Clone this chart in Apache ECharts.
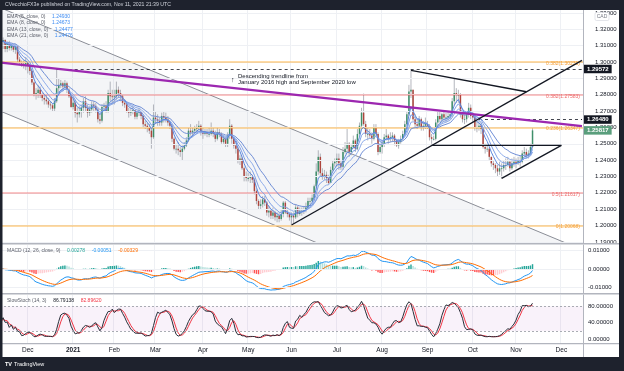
<!DOCTYPE html>
<html><head><meta charset="utf-8">
<script src="https://cdn.jsdelivr.net/npm/echarts@6/dist/echarts.min.js"></script>
<style>html,body{margin:0;padding:0;background:#fff}#c{width:624px;height:371px}</style>
</head><body><div id="c"></div>
<script>
// ---------- daily USD/CAD candles (open = previous close) ----------
const firstOpen = 1.3100;
const c_nov20=[1.3125,1.3135,1.3080,1.3110,1.3085,1.3100,1.3075,1.3095,1.3015,1.2995,1.2990,1.2985,1.2995];
const h_nov20=[1.3170,1.3150,1.3140,1.3125,1.3130,1.3110,1.3110,1.3110,1.3100,1.3030,1.3010,1.3010,1.3030];
const l_nov20=[1.3090,1.3080,1.3060,1.3060,1.3070,1.3070,1.3060,1.3050,1.3000,1.2980,1.2970,1.2960,1.2950];
const c_dec20=[1.2975,1.2945,1.2875,1.2800,1.2810,1.2830,1.2800,1.2780,1.2770,1.2760,1.2740,1.2735,1.2715,1.2760,1.2840,1.2860,1.2870,1.2850,1.2870,1.2830,1.2790,1.2725];
const h_dec20=[1.3000,1.2990,1.2950,1.2880,1.2840,1.2860,1.2850,1.2810,1.2800,1.2800,1.2780,1.2760,1.2745,1.2780,1.2957,1.2900,1.2890,1.2880,1.2890,1.2880,1.2840,1.2800];
const l_dec20=[1.2930,1.2920,1.2860,1.2790,1.2770,1.2780,1.2780,1.2760,1.2740,1.2740,1.2720,1.2710,1.2700,1.2700,1.2750,1.2810,1.2840,1.2820,1.2830,1.2810,1.2780,1.2720];
const c_jan21=[1.2750,1.2690,1.2680,1.2700,1.2720,1.2760,1.2720,1.2690,1.2710,1.2740,1.2730,1.2710,1.2650,1.2640,1.2725,1.2730,1.2700,1.2810,1.2790,1.2785];
const h_jan21=[1.2790,1.2770,1.2720,1.2730,1.2740,1.2780,1.2790,1.2740,1.2730,1.2760,1.2760,1.2750,1.2720,1.2680,1.2740,1.2750,1.2760,1.2830,1.2880,1.2830];
const l_jan21=[1.2710,1.2660,1.2630,1.2660,1.2660,1.2690,1.2700,1.2660,1.2670,1.2690,1.2700,1.2690,1.2630,1.2620,1.2630,1.2700,1.2690,1.2690,1.2760,1.2740];
const c_feb21=[1.2790,1.2830,1.2810,1.2790,1.2750,1.2740,1.2700,1.2690,1.2700,1.2705,1.2665,1.2690,1.2695,1.2670,1.2620,1.2610,1.2600,1.2580,1.2540,1.2660];
const h_feb21=[1.2830,1.2880,1.2850,1.2830,1.2800,1.2770,1.2750,1.2720,1.2720,1.2730,1.2700,1.2700,1.2720,1.2700,1.2680,1.2640,1.2630,1.2620,1.2590,1.2740];
const l_feb21=[1.2740,1.2770,1.2780,1.2760,1.2730,1.2720,1.2690,1.2660,1.2670,1.2680,1.2650,1.2650,1.2670,1.2650,1.2600,1.2590,1.2570,1.2560,1.2470,1.2530];
const c_mar21=[1.2650,1.2640,1.2630,1.2670,1.2660,1.2650,1.2630,1.2610,1.2530,1.2470,1.2470,1.2460,1.2450,1.2470,1.2490,1.2520,1.2580,1.2570,1.2580,1.2590,1.2600,1.2610,1.2570];
const h_mar21=[1.2700,1.2680,1.2660,1.2690,1.2700,1.2690,1.2670,1.2640,1.2620,1.2540,1.2500,1.2510,1.2480,1.2490,1.2510,1.2540,1.2600,1.2620,1.2600,1.2610,1.2620,1.2640,1.2620];
const l_mar21=[1.2620,1.2610,1.2610,1.2610,1.2630,1.2630,1.2610,1.2590,1.2510,1.2460,1.2440,1.2430,1.2420,1.2400,1.2460,1.2480,1.2510,1.2550,1.2540,1.2560,1.2570,1.2580,1.2550];
const c_apr21=[1.2560,1.2570,1.2560,1.2560,1.2580,1.2560,1.2530,1.2570,1.2560,1.2510,1.2530,1.2500,1.2550,1.2610,1.2530,1.2490,1.2470,1.2400,1.2410,1.2350,1.2300,1.2290];
const h_apr21=[1.2600,1.2590,1.2590,1.2600,1.2630,1.2600,1.2580,1.2600,1.2590,1.2570,1.2550,1.2540,1.2570,1.2650,1.2620,1.2540,1.2510,1.2480,1.2430,1.2420,1.2360,1.2330];
const l_apr21=[1.2530,1.2550,1.2540,1.2540,1.2550,1.2540,1.2510,1.2520,1.2540,1.2500,1.2500,1.2480,1.2480,1.2530,1.2500,1.2470,1.2440,1.2380,1.2370,1.2340,1.2270,1.2270];
const c_may21=[1.2290,1.2300,1.2280,1.2210,1.2150,1.2120,1.2130,1.2160,1.2140,1.2080,1.2090,1.2060,1.2080,1.2050,1.2060,1.2040,1.2070,1.2140,1.2080,1.2070,1.2050];
const h_may21=[1.2320,1.2330,1.2310,1.2290,1.2220,1.2160,1.2160,1.2180,1.2180,1.2150,1.2120,1.2100,1.2110,1.2090,1.2080,1.2080,1.2100,1.2150,1.2150,1.2110,1.2080];
const l_may21=[1.2270,1.2260,1.2260,1.2190,1.2130,1.2100,1.2100,1.2110,1.2120,1.2060,1.2050,1.2040,1.2040,1.2030,1.2020,1.2020,1.2030,1.2050,1.2070,1.2050,1.2030];
const c_jun21=[1.2060,1.2050,1.2110,1.2070,1.2090,1.2090,1.2100,1.2110,1.2150,1.2150,1.2170,1.2240,1.2330,1.2420,1.2320,1.2300,1.2310,1.2290,1.2260,1.2340,1.2380,1.2390];
const h_jun21=[1.2080,1.2080,1.2130,1.2120,1.2110,1.2110,1.2120,1.2140,1.2170,1.2170,1.2190,1.2250,1.2380,1.2460,1.2440,1.2350,1.2340,1.2330,1.2310,1.2360,1.2400,1.2410];
const l_jun21=[1.2007,1.2010,1.2040,1.2050,1.2060,1.2060,1.2070,1.2080,1.2100,1.2130,1.2140,1.2150,1.2220,1.2310,1.2300,1.2280,1.2280,1.2260,1.2250,1.2260,1.2330,1.2360];
const c_jul21=[1.2410,1.2380,1.2360,1.2450,1.2470,1.2500,1.2450,1.2480,1.2520,1.2470,1.2560,1.2610,1.2690,1.2620,1.2560,1.2560,1.2550,1.2530,1.2600,1.2560,1.2450,1.2480];
const h_jul21=[1.2440,1.2440,1.2400,1.2480,1.2510,1.2590,1.2510,1.2500,1.2550,1.2530,1.2590,1.2630,1.2720,1.2807,1.2640,1.2600,1.2590,1.2570,1.2620,1.2620,1.2570,1.2500];
const l_jul21=[1.2360,1.2340,1.2340,1.2340,1.2440,1.2450,1.2420,1.2430,1.2470,1.2450,1.2460,1.2550,1.2590,1.2610,1.2540,1.2520,1.2530,1.2500,1.2520,1.2540,1.2430,1.2440];
const c_aug21=[1.2500,1.2540,1.2550,1.2530,1.2540,1.2550,1.2520,1.2490,1.2510,1.2530,1.2560,1.2620,1.2680,1.2820,1.2830,1.2650,1.2620,1.2610,1.2650,1.2600,1.2610,1.2620];
const h_aug21=[1.2520,1.2560,1.2590,1.2560,1.2570,1.2570,1.2560,1.2530,1.2530,1.2550,1.2580,1.2640,1.2700,1.2860,1.2949,1.2830,1.2680,1.2650,1.2670,1.2660,1.2640,1.2660];
const l_aug21=[1.2440,1.2480,1.2520,1.2500,1.2510,1.2510,1.2490,1.2480,1.2470,1.2500,1.2520,1.2550,1.2610,1.2670,1.2780,1.2640,1.2600,1.2590,1.2600,1.2580,1.2580,1.2590];
const c_sep21=[1.2610,1.2540,1.2530,1.2530,1.2630,1.2670,1.2650,1.2680,1.2660,1.2660,1.2670,1.2680,1.2760,1.2810,1.2800,1.2800,1.2680,1.2650,1.2650,1.2680,1.2720,1.2670];
const h_sep21=[1.2640,1.2620,1.2560,1.2550,1.2650,1.2700,1.2700,1.2690,1.2700,1.2690,1.2700,1.2700,1.2780,1.2896,1.2840,1.2830,1.2810,1.2700,1.2680,1.2700,1.2750,1.2740];
const l_sep21=[1.2590,1.2520,1.2500,1.2520,1.2520,1.2610,1.2630,1.2630,1.2640,1.2630,1.2640,1.2650,1.2660,1.2730,1.2750,1.2750,1.2660,1.2630,1.2620,1.2630,1.2660,1.2650];
const c_oct21=[1.2660,1.2600,1.2600,1.2610,1.2590,1.2480,1.2470,1.2470,1.2420,1.2380,1.2370,1.2350,1.2330,1.2350,1.2350,1.2370,1.2370,1.2390,1.2350,1.2380,1.2390];
const h_oct21=[1.2700,1.2670,1.2640,1.2640,1.2630,1.2600,1.2500,1.2500,1.2480,1.2420,1.2400,1.2380,1.2370,1.2390,1.2380,1.2400,1.2410,1.2420,1.2400,1.2410,1.2420];
const l_oct21=[1.2630,1.2580,1.2570,1.2580,1.2560,1.2470,1.2440,1.2450,1.2400,1.2360,1.2340,1.2320,1.2300,1.2310,1.2288,1.2330,1.2340,1.2360,1.2330,1.2340,1.2360];
const c_nov21=[1.2380,1.2400,1.2390,1.2440,1.2450,1.2430,1.2440,1.2480,1.25817];
const h_nov21=[1.2410,1.2420,1.2430,1.2460,1.2480,1.2470,1.2460,1.2500,1.2595];
const l_nov21=[1.2350,1.2370,1.2360,1.2380,1.2420,1.2410,1.2410,1.2430,1.2470];

// ---------- axis / annotation values ----------
const priceTicks=[1.19,1.20,1.21,1.22,1.23,1.24,1.25,1.26,1.27,1.28,1.29,1.30,1.31,1.32,1.33];
const macdTicks=[-0.01,0,0.01];
const stochTicks=[0,40,80];
const monthNames=['Jan','Feb','Mar','Apr','May','Jun','Jul','Aug','Sep','Oct','Nov','Dec'];
const fibOrangeNames=['0.382','0.236','0'];
const fibOrangeValues=[1.30231,1.26347,1.20068];
const fibRedNames=['0.382','0.5'];
const fibRedValues=[1.27583,1.21617];
const channelUpper=[[0,1.3330],[282,1.1852]];
const channelLower=[[0,1.2698],[282,1.1220]];
const trendPurple=[[0,1.29965],[282,1.26073]];
const trendRise=[[141,1.2003],[282,1.3010]];
const trendPennantTop=[[199,1.2949],[255,1.2818]];
const trendFlat=[[209,1.2490],[272,1.2490]];
const trendOctLow=[[243,1.2288],[272,1.2490]];
const levelDec21High=1.29572, levelDec21Start=27;
const levelSepBreak=1.26480, levelSepStart=232;
const emaLegendNames=['EMA (5, close, 0)','EMA (8, close, 0)','EMA (13, close, 0)','EMA (21, close, 0)'];
const emaLegendValues=['1.24930','1.24673','1.24477','1.24476'];
const macdLegendValues=['0.00278','-0.00051','-0.00329'];
const stochLegendValues=['86.79138','82.89620'];

// ---------- build ----------
const closes=[].concat(c_nov20,c_dec20,c_jan21,c_feb21,c_mar21,c_apr21,c_may21,c_jun21,c_jul21,c_aug21,c_sep21,c_oct21,c_nov21);
const highs=[].concat(h_nov20,h_dec20,h_jan21,h_feb21,h_mar21,h_apr21,h_may21,h_jun21,h_jul21,h_aug21,h_sep21,h_oct21,h_nov21);
const lows=[].concat(l_nov20,l_dec20,l_jan21,l_feb21,l_mar21,l_apr21,l_may21,l_jun21,l_jul21,l_aug21,l_sep21,l_oct21,l_nov21);
const opens=closes.map((c,i)=>i===0?firstOpen:closes[i-1]);
const N=closes.length;
const totalSlots=283;
const skipDates=['2020-12-25','2021-01-01'];
const dates=[];
{ let d=new Date(Date.UTC(2020,10,12));
  while(dates.length<totalSlots){const wd=d.getUTCDay();const s=d.toISOString().slice(0,10);
    if(wd!==0&&wd!==6&&!skipDates.includes(s))dates.push(s);d.setUTCDate(d.getUTCDate()+1);} }
const monthStart=new Set();
dates.forEach((s,i)=>{if(i>0&&s.slice(5,7)!==dates[i-1].slice(5,7))monthStart.add(i);});

function ema(a,n){const k=2/(n+1);const o=[];a.forEach((v,i)=>o.push(i===0?v:v*k+o[i-1]*(1-k)));return o;}
function sma(a,n){return a.map((v,i)=>{const s=a.slice(Math.max(0,i-n+1),i+1);return s.reduce((x,y)=>x+y,0)/s.length;});}
const ema5=ema(closes,5),ema8=ema(closes,8),ema13=ema(closes,13),ema21=ema(closes,21);
const e12=ema(closes,12),e26=ema(closes,26);
const macd=e12.map((v,i)=>v-e26[i]);
const signal=ema(macd,9);
const hist=macd.map((v,i)=>v-signal[i]);
const raw=closes.map((c,i)=>{const s=Math.max(0,i-13);const hh=Math.max(...highs.slice(s,i+1));const ll=Math.min(...lows.slice(s,i+1));return hh===ll?50:(c-ll)/(hh-ll)*100;});
const stK=sma(raw,3), stD=sma(stK,3);

const F="'Liberation Sans', Arial, sans-serif";
const DARK='#1e222d';
const gridColor='#eef0f4';

function clipPoly(pts,r){
  const ins=[p=>p[0]>=r.x,p=>p[0]<=r.x+r.width,p=>p[1]>=r.y,p=>p[1]<=r.y+r.height];
  const cut=[(a,b)=>{const X=r.x,t=(X-a[0])/(b[0]-a[0]);return[X,a[1]+t*(b[1]-a[1])];},
    (a,b)=>{const X=r.x+r.width,t=(X-a[0])/(b[0]-a[0]);return[X,a[1]+t*(b[1]-a[1])];},
    (a,b)=>{const Y=r.y,t=(Y-a[1])/(b[1]-a[1]);return[a[0]+t*(b[0]-a[0]),Y];},
    (a,b)=>{const Y=r.y+r.height,t=(Y-a[1])/(b[1]-a[1]);return[a[0]+t*(b[0]-a[0]),Y];}];
  let out=pts;
  for(let e=0;e<4;e++){const inp=out;out=[];
    for(let k=0;k<inp.length;k++){const cur=inp[k],prev=inp[(k+inp.length-1)%inp.length];
      const ci=ins[e](cur),pi=ins[e](prev);
      if(ci){if(!pi)out.push(cut[e](prev,cur));out.push(cur);}else if(pi)out.push(cut[e](prev,cur));}}
  return out;
}

const chart=echarts.init(document.getElementById('c'),null,{renderer:'canvas'});
const xBase=(gi,showLabel)=>({type:'category',gridIndex:gi,data:dates,boundaryGap:true,
  axisLine:{show:false},axisTick:{show:false},
  splitLine:{show:true,interval:(i)=>monthStart.has(i),lineStyle:{color:gridColor,width:1}},
  axisLabel:{show:showLabel,interval:(i)=>monthStart.has(i),margin:4,fontSize:6.5,color:'#131722',fontFamily:F,
    formatter:(v)=>{const m=+v.slice(5,7);return m===1?'{b|'+v.slice(0,4)+'}':monthNames[m-1];},
    rich:{b:{fontWeight:'bold',fontSize:6.5,color:'#131722',fontFamily:F}}}});
const yBase=(gi,min,max,ticks,dec,margin)=>({type:'value',gridIndex:gi,position:'right',min,max,scale:true,
  axisLine:{show:true,lineStyle:{color:'#b2b5be',width:1}},axisTick:{show:false,customValues:ticks},
  splitLine:{show:false},
  axisLabel:{customValues:ticks,margin,fontSize:6,color:'#131722',fontFamily:F,formatter:(v)=>v.toFixed(dec)}});

const lineSeries=(name,data,color,width,extra)=>Object.assign({type:'line',name,data,xAxisIndex:0,yAxisIndex:0,
  symbol:'none',silent:true,lineStyle:{color,width},itemStyle:{color},animation:false},extra||{});

const fibMarks=[].concat(
  fibOrangeValues.map((v,k)=>({yAxis:v,lineStyle:{color:'rgba(255,167,38,0.55)',width:1.5,type:'solid'},
    label:{show:true,position:'insideEndBottom',distance:[3,-1],formatter:fibOrangeNames[k]+'('+v.toFixed(5)+')',color:'#f5a13c',fontSize:5,fontFamily:F}})),
  fibRedValues.map((v,k)=>({yAxis:v,lineStyle:{color:'rgba(242,80,80,0.45)',width:1.5,type:'solid'},
    label:{show:true,position:'insideEndBottom',distance:[3,-1],formatter:fibRedNames[k]+'('+v.toFixed(5)+')',color:'#ee6b6b',fontSize:5,fontFamily:F}})));
const boxLabel=(txt,bg)=>({show:true,position:'end',distance:2,formatter:txt,backgroundColor:bg,color:'#fff',
  fontSize:6,fontWeight:'bold',fontFamily:F,padding:[1.5,3,1,3]});

const legendText=(x,y,name,vals,cols)=>({type:'text',z:50,x,y,style:{
  text:'{n|'+name+'}'+vals.map((v,k)=>'  {v'+k+'|'+v+'}').join(''),verticalAlign:'middle',
  rich:Object.assign({n:{fill:'#5d606b',fontSize:5,fontFamily:F}},
    ...cols.map((c,k)=>({['v'+k]:{fill:c,fontSize:5,fontFamily:F}})))}});

const option={
  animation:false,
  backgroundColor:'#ffffff',
  grid:[{left:0,right:41,top:10,height:233},{left:0,right:41,top:245,height:48},{left:0,right:41,top:295,height:48}],
  xAxis:[xBase(0,false),xBase(1,false),xBase(2,true)],
  yAxis:[yBase(0,1.1893,1.3318,priceTicks,5,12),yBase(1,-0.01286,0.01308,macdTicks,5,5),yBase(2,-9,107.4,stochTicks,5,5)],
  series:[
    {type:'custom',name:'channel',xAxisIndex:0,yAxisIndex:0,silent:true,z:1,data:[0],
      renderItem:(params,api)=>{
        const pts=[api.coord(channelUpper[0]),api.coord(channelUpper[1]),api.coord(channelLower[1]),api.coord(channelLower[0])];
        const cs=params.coordSys;
        return {type:'polygon',shape:{points:clipPoly(pts,{x:cs.x,y:cs.y,width:cs.width,height:cs.height})},style:{fill:'rgba(120,123,150,0.08)'}};
      },
      markLine:{silent:true,symbol:['none','none'],animation:false,label:{show:false},
        data:priceTicks.map(v=>({yAxis:v,lineStyle:{color:gridColor,width:1,type:'solid'}}))}},
    lineSeries('fibs',[],'#f5a13c',1,{z:2,markLine:{silent:true,symbol:['none','none'],animation:false,data:fibMarks}}),
    lineSeries('chanU',channelUpper,'#8a8d96',1,{z:3}),
    lineSeries('chanL',channelLower,'#8a8d96',1,{z:3}),
    {type:'custom',name:'USDCAD',xAxisIndex:0,yAxisIndex:0,z:4,clip:true,silent:true,
      data:closes.map((c,i)=>[i,opens[i],c,lows[i],highs[i]]),
      encode:{x:0,y:[1,2,3,4]},
      renderItem:(params,api)=>{
        const i=api.value(0),o=api.value(1),c=api.value(2),lo=Math.min(api.value(3),o,c),hi=Math.max(api.value(4),o,c);
        const pO=api.coord([i,o]),pC=api.coord([i,c]),pL=api.coord([i,lo]),pH=api.coord([i,hi]);
        const w=api.size([1,0])[0]*0.72;const up=c>=o;
        return {type:'group',children:[
          {type:'line',shape:{x1:pO[0],y1:pH[1],x2:pO[0],y2:pL[1]},style:{stroke:'#9fa2ab',lineWidth:0.8}},
          {type:'rect',shape:{x:pO[0]-w/2,y:Math.min(pO[1],pC[1]),width:w,height:Math.max(0.8,Math.abs(pO[1]-pC[1]))},
            style:{fill:up?'#3f8f6a':'#ad443c'}}]};
      }},
    lineSeries('EMA21',ema21,'#6f8ed6',1,{z:5}),
    lineSeries('EMA13',ema13,'#8eacea',1,{z:5}),
    lineSeries('EMA8',ema8,'#7c9ee6',1,{z:5}),
    lineSeries('EMA5',ema5,'#5a86dc',1,{z:5}),
    lineSeries('purple',trendPurple,'#9c27b0',2.2,{z:6}),
    lineSeries('rise',trendRise,'#131722',1.3,{z:6}),
    lineSeries('pennant',trendPennantTop,'#131722',1.3,{z:6}),
    lineSeries('flat',trendFlat,'#131722',1.3,{z:6}),
    lineSeries('octlow',trendOctLow,'#131722',1.3,{z:6}),
    lineSeries('levels',[],'#131722',1,{z:7,markLine:{silent:true,symbol:['none','none'],animation:false,data:[
      [{coord:[levelDec21Start,levelDec21High],lineStyle:{color:'#131722',width:0.8,type:[3,3]},label:boxLabel(levelDec21High.toFixed(5),'#131722')},
       {coord:[totalSlots-1,levelDec21High]}],
      [{coord:[levelSepStart,levelSepBreak],lineStyle:{color:'#131722',width:0.8,type:[3,3]},label:boxLabel(levelSepBreak.toFixed(5),'#131722')},
       {coord:[totalSlots-1,levelSepBreak]}],
      [{coord:[N-1,closes[N-1]],lineStyle:{color:'rgba(0,0,0,0)',width:1,type:'solid'},label:boxLabel(closes[N-1].toFixed(5),'#5a9e7c')},
       {coord:[totalSlots-1,closes[N-1]]}]
    ]}}),
    // MACD pane
    {type:'bar',name:'hist',xAxisIndex:1,yAxisIndex:1,barWidth:'70%',silent:true,
      data:hist.map((h,i)=>{const p=i>0?hist[i-1]:h;const col=h>=0?(p<h?'#26a69a':'#b2dfdb'):(p<h?'#ffcdd2':'#ff5252');return{value:h,itemStyle:{color:col}};}),
      markLine:{silent:true,symbol:['none','none'],animation:false,label:{show:false},
        data:macdTicks.map(v=>({yAxis:v,lineStyle:{color:gridColor,width:1,type:'solid'}}))}},
    {type:'line',name:'MACD',xAxisIndex:1,yAxisIndex:1,data:macd,symbol:'none',silent:true,lineStyle:{color:'#2196f3',width:1}},
    {type:'line',name:'Signal',xAxisIndex:1,yAxisIndex:1,data:signal,symbol:'none',silent:true,lineStyle:{color:'#ff6d00',width:1}},
    // Stoch pane
    {type:'line',name:'%D',xAxisIndex:2,yAxisIndex:2,data:stD,symbol:'none',silent:true,lineStyle:{color:'#f23645',width:1},
      markArea:{silent:true,itemStyle:{color:'rgba(156,39,176,0.06)'},data:[[{yAxis:20},{yAxis:80}]]},
      markLine:{silent:true,symbol:['none','none'],animation:false,label:{show:false},
        data:[{yAxis:80,lineStyle:{color:'#9598a1',width:0.8,type:[2,2]}},{yAxis:20,lineStyle:{color:'#9598a1',width:0.8,type:[2,2]}}]}},
    {type:'line',name:'%K',xAxisIndex:2,yAxisIndex:2,data:stK,symbol:'none',silent:true,lineStyle:{color:'#2a2e39',width:1}}
  ],
  graphic:[
    {type:'rect',z:100,shape:{x:0,y:0,width:624,height:10},style:{fill:DARK}},
    {type:'text',z:101,x:5,y:5,style:{text:'CVecchioFX3e published on TradingView.com, Nov 11, 2021 21:39 UTC',fill:'#d1d4dc',fontSize:5.2,fontFamily:F,verticalAlign:'middle'}},
    {type:'rect',z:100,shape:{x:0,y:357,width:624,height:14},style:{fill:DARK}},
    {type:'text',z:101,x:5,y:364.5,style:{text:'TV',fill:'#ffffff',fontSize:5.5,fontWeight:'bold',fontFamily:F,verticalAlign:'middle'}},
    {type:'text',z:101,x:14,y:364.5,style:{text:'TradingView',fill:'#ffffff',fontSize:5.5,fontFamily:F,verticalAlign:'middle'}},
    {type:'rect',z:100,shape:{x:0,y:10,width:2.5,height:347},style:{fill:DARK}},
    {type:'rect',z:100,shape:{x:619,y:0,width:5,height:371},style:{fill:DARK}},
    {type:'rect',z:99,shape:{x:0,y:243,width:619,height:1.5},style:{fill:'#b2b5be'}},
    {type:'rect',z:99,shape:{x:0,y:293,width:619,height:1.5},style:{fill:'#b2b5be'}},
    {type:'rect',z:99,shape:{x:0,y:343,width:619,height:1.2},style:{fill:'#b2b5be'}},
    {type:'rect',z:99,shape:{x:583,y:343,width:1,height:14},style:{fill:'#b2b5be'}},
    {type:'rect',z:102,shape:{x:595,y:12.5,width:14,height:8,r:1.5},style:{fill:'#ffffff',stroke:'#d1d4dc',lineWidth:0.6}},
    {type:'text',z:103,x:602,y:16.7,style:{text:'CAD',fill:'#787b86',fontSize:5,fontFamily:F,align:'center',verticalAlign:'middle'}},
    ...emaLegendNames.map((t,k)=>legendText(7,16.5+k*6.4,t,[emaLegendValues[k]],['#3d8bf2'])),
    legendText(7,250.5,'MACD (12, 26, close, 9)',macdLegendValues,['#26a69a','#2196f3','#ff6d00']),
    legendText(7,300.5,'SlowStoch (14, 3)',stochLegendValues,['#131722','#f23645']),
    {type:'text',z:50,x:231,y:80,style:{text:'↑',fill:'#131722',fontSize:7,fontWeight:'bold',fontFamily:F,verticalAlign:'middle'}},
    {type:'text',z:50,x:238,y:76.5,style:{text:'Descending trendline from',fill:'#131722',fontSize:6,fontFamily:F,verticalAlign:'middle'}},
    {type:'text',z:50,x:238,y:82.7,style:{text:'January 2016 high and September 2020 low',fill:'#131722',fontSize:6,fontFamily:F,verticalAlign:'middle'}}
  ]
};
chart.setOption(option);
</script></body></html>
